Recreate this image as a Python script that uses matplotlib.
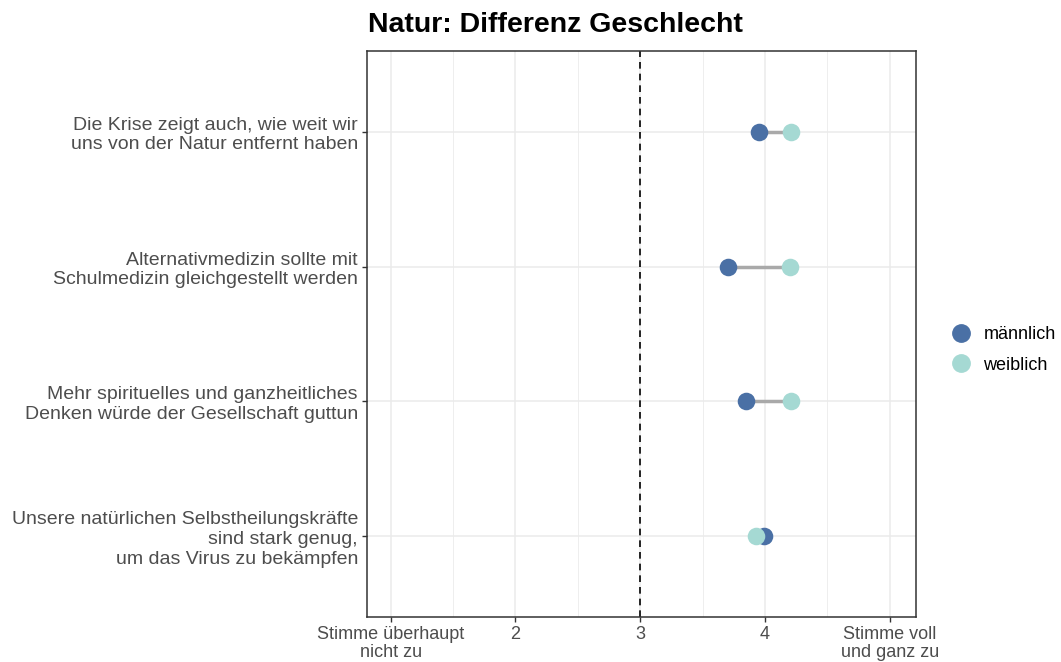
import numpy as np
import matplotlib
matplotlib.use("Agg")
from matplotlib import pyplot as plt
from matplotlib.lines import Line2D

plt.rcParams['font.family'] = ['Liberation Sans', 'DejaVu Sans']

items = ['Die Krise zeigt auch, wie weit wir\nuns von der Natur entfernt haben',
         'Alternativmedizin sollte mit\nSchulmedizin gleichgestellt werden',
         'Mehr spirituelles und ganzheitliches\nDenken würde der Gesellschaft guttun',
         'Unsere natürlichen Selbstheilungskräfte\nsind stark genug,\num das Virus zu bekämpfen']
maennlich = [3.95, 3.70, 3.85, 3.99]
weiblich = [4.21, 4.20, 4.21, 3.93]
xticks = [1, 2, 3, 4, 5]
xlabels = ['Stimme überhaupt\nnicht zu', '2', '3', '4', 'Stimme voll\nund ganz zu']

col_m = '#4A70A5'
col_w = '#A5D9D3'

fig = plt.figure(figsize=(10.61, 6.62), dpi=100)
ax = fig.add_axes([367/1061, 1-617/662, (916-367)/1061, (617-51)/662])

y = np.arange(len(items))[::-1] + 1
for yi, m, w in zip(y, maennlich, weiblich):
    ax.plot([m, w], [yi, yi], color='#A9A9A9', lw=2.5, zorder=2, solid_capstyle='butt')
ax.scatter(maennlich, y, s=160, color=col_m, zorder=3, linewidths=0)
ax.scatter(weiblich, y, s=160, color=col_w, zorder=4, linewidths=0)

ax.axvline(3, color='black', ls=(0, (4, 3)), lw=1.2, zorder=2.5)

ax.set_xlim(0.81, 5.21)
ax.set_ylim(0.4, 4.6)
ax.set_xticks(xticks)
ax.set_xticklabels(xlabels, fontsize=13, color='#4D4D4D', linespacing=1.1)
ax.set_xticks([1.5, 2.5, 3.5, 4.5], minor=True)
ax.set_yticks(y)
ax.set_yticklabels(items, fontsize=14, color='#4D4D4D', multialignment='right',
                   linespacing=1.2)
ax.tick_params(axis='both', which='major', length=3.5, width=1, color='#333333', pad=3)
ax.tick_params(axis='x', which='minor', length=0)
ax.grid(True, which='major', color='#EBEBEB', lw=1.1)
ax.grid(True, which='minor', axis='x', color='#EBEBEB', lw=0.6)
ax.set_axisbelow(True)
for s in ax.spines.values():
    s.set_color('#333333')
    s.set_linewidth(1.1)

fig.text(368/1061, 1-25/662, 'Natur: Differenz Geschlecht', fontsize=20.5,
         fontweight='bold', va='center', ha='left')

handles = [Line2D([], [], marker='o', ls='', color=col_m, markersize=12.5),
           Line2D([], [], marker='o', ls='', color=col_w, markersize=12.5)]
fig.legend(handles, ['männlich', 'weiblich'], loc='center left',
           bbox_to_anchor=(931/1061, 1-350/662), frameon=False, fontsize=13,
           handletextpad=0.5, labelspacing=0.75, handlelength=1.5)

fig.savefig('out.png', dpi=100)
